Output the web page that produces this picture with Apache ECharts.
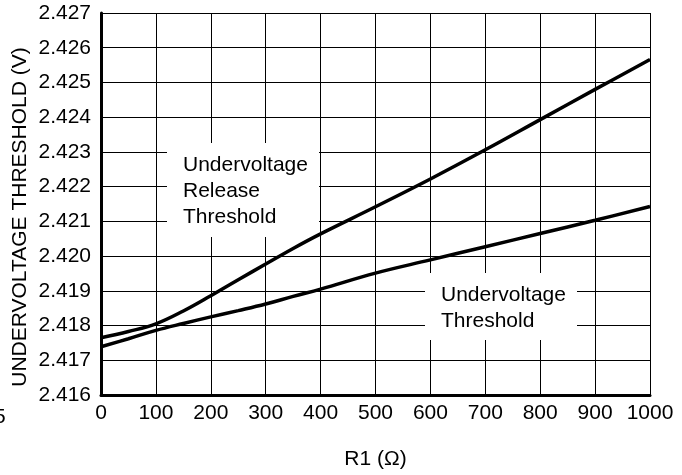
<!DOCTYPE html>
<html>
<head>
<meta charset="utf-8">
<script src="https://cdn.jsdelivr.net/npm/echarts@6/dist/echarts.min.js"></script>
<style>
html,body{margin:0;padding:0;background:#fff;}
#c{width:682px;height:475px;}
</style>
</head>
<body>
<div id="c"></div>
<script>
var r1Values = [0, 50, 100, 150, 200, 250, 300, 350, 400, 500, 600, 700, 800, 900, 1000];
var releaseThreshold = [2.41765, 2.41783, 2.41805, 2.41842, 2.41886, 2.41932, 2.41977, 2.42022, 2.42064, 2.42142, 2.42222, 2.42306, 2.42393, 2.42480, 2.42566];
var undervoltageThreshold = [2.41739, 2.41762, 2.41786, 2.41806, 2.41825, 2.41843, 2.41862, 2.41884, 2.41905, 2.41951, 2.41989, 2.42027, 2.42065, 2.42103, 2.42143];
var releaseLabel = ['Undervoltage', 'Release', 'Threshold'];
var thresholdLabel = ['Undervoltage', 'Threshold'];
var xTitle = 'R1 (\u03A9)';
var yTitle = 'UNDERVOLTAGE THRESHOLD (V)';

var FONT = '"Liberation Sans", Arial, sans-serif';
var FS = 21;

function pairs(xs, ys) { return xs.map(function (x, i) { return [x, ys[i]]; }); }

var chart = echarts.init(document.getElementById('c'), null, { renderer: 'canvas' });
chart.setOption({
  animation: false,
  backgroundColor: '#fff',
  grid: { left: 101, top: 13, right: 32, bottom: 77, containLabel: false },
  xAxis: {
    type: 'value', min: 0, max: 1000, interval: 100,
    name: xTitle, nameLocation: 'middle', nameGap: 54,
    nameTextStyle: { fontFamily: FONT, fontSize: FS, color: '#000' },
    axisLine: { show: true, onZero: false, lineStyle: { color: '#000', width: 3 } },
    axisTick: { show: false },
    axisLabel: { color: '#000', fontFamily: FONT, fontSize: FS, margin: 8,
      formatter: function (v) { return String(v); } },
    splitLine: { show: true, lineStyle: { color: '#000', width: 1 } }
  },
  yAxis: {
    type: 'value', min: 2.416, max: 2.427, interval: 0.001,
    axisLine: { show: true, onZero: false, lineStyle: { color: '#000', width: 3 } },
    axisTick: { show: false },
    axisLabel: { color: '#000', fontFamily: FONT, fontSize: FS, margin: 10,
      formatter: function (v) { return v.toFixed(3); } },
    splitLine: { show: true, lineStyle: { color: '#000', width: 1 } }
  },
  series: [
    { type: 'line', data: pairs(r1Values, releaseThreshold), smooth: 0.4, showSymbol: false,
      lineStyle: { color: '#000', width: 3.5 }, z: 5 },
    { type: 'line', data: pairs(r1Values, undervoltageThreshold), smooth: 0.4, showSymbol: false,
      lineStyle: { color: '#000', width: 3.5 }, z: 5 }
  ],
  graphic: [
    { type: 'rect', shape: { x: 167, y: 143, width: 152, height: 94 }, style: { fill: '#fff' }, z: 3 },
    { type: 'text', left: 183, top: 152, z: 4,
      style: { text: releaseLabel.join('\n'), font: FS + 'px ' + FONT, fill: '#000', lineHeight: 26 } },
    { type: 'rect', shape: { x: 425, y: 273, width: 152, height: 67 }, style: { fill: '#fff' }, z: 3 },
    { type: 'text', left: 441, top: 282, z: 4,
      style: { text: thresholdLabel.join('\n'), font: FS + 'px ' + FONT, fill: '#000', lineHeight: 26 } },
    { type: 'text', x: 20, y: 217, rotation: Math.PI / 2, z: 4,
      style: { text: yTitle, font: FS + 'px ' + FONT, fill: '#000', align: 'center', verticalAlign: 'middle' } },
    { type: 'text', x: -6, y: 428, z: 4,
      style: { text: '5', font: FS + 'px ' + FONT, fill: '#000', verticalAlign: 'bottom' } }
  ]
});
</script>
</body>
</html>
